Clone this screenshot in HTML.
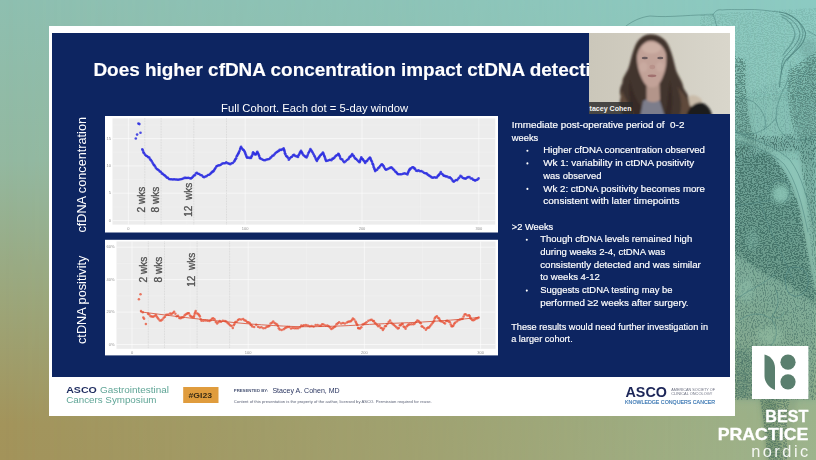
<!DOCTYPE html>
<html lang="en">
<head>
<meta charset="utf-8">
<title>Does higher cfDNA concentration impact ctDNA detection?</title>
<style>
  html, body { margin:0; padding:0; }
  body { width:816px; height:460px; overflow:hidden; position:relative; background:#95b09a;
         font-family:"Liberation Sans", sans-serif; }
  .bg, .bg2 { position:absolute; left:0; top:0; width:816px; height:460px; }
  .bg  { background:linear-gradient(to bottom, #8ebfb0 0%, #93b8a0 35%, #9ca67a 65%, #a3945b 92%, #a3935a 100%); }
  .bg2 { background:linear-gradient(to bottom, #8ccac2 0%, #8dc5b9 40%, #93ba9f 72%, #9bb38c 90%, #9db48d 100%);
         -webkit-mask-image:linear-gradient(to right, transparent 0%, rgba(0,0,0,0.43) 50%, #000 100%);
                 mask-image:linear-gradient(to right, transparent 0%, rgba(0,0,0,0.43) 50%, #000 100%); }
  .frame { position:absolute; left:49px; top:26px; width:686px; height:390px; background:#fff; }
  .slide { position:absolute; left:52px; top:33px; width:678px; height:344px; background:#0d2561; overflow:hidden; }
  svg { position:absolute; left:0; top:0; }
  svg text { font-family:"Liberation Sans", sans-serif; }
</style>
</head>
<body>
<div class="bg"></div>
<div class="bg2"></div>

<!-- botanical etching on the right -->
<svg width="816" height="460" viewBox="0 0 816 460">
  <defs>
    <filter id="etch" x="0" y="0" width="100%" height="100%" filterUnits="objectBoundingBox">
      <feTurbulence type="fractalNoise" baseFrequency="0.55 0.9" numOctaves="2" seed="11" result="n"/>
      <feColorMatrix in="n" type="matrix" values="0 0 0 0 0  0 0 0 0 0  0 0 0 0 0  7 0 0 0 -3.1" result="a"/>
      <feComposite in="SourceGraphic" in2="a" operator="in"/>
    </filter>
    <filter id="etch2" x="0" y="0" width="100%" height="100%" filterUnits="objectBoundingBox">
      <feTurbulence type="fractalNoise" baseFrequency="0.9 0.5" numOctaves="2" seed="4" result="n"/>
      <feColorMatrix in="n" type="matrix" values="0 0 0 0 0  0 0 0 0 0  0 0 0 0 0  7 0 0 0 -3.4" result="a"/>
      <feComposite in="SourceGraphic" in2="a" operator="in"/>
    </filter>
    <filter id="bl" x="-20%" y="-20%" width="140%" height="140%"><feGaussianBlur stdDeviation="2.5"/></filter>
  </defs>
  <!-- soft tonal masses -->
  <g filter="url(#bl)" fill="#4f7f74">
    <path d="M735 160 L766 152 C780 160,792 180,800 210 C806 240,810 266,816 290 L816 304 L790 286 L770 276 L735 254 Z" fill-opacity="0.55"/>
    <path d="M798 140 L816 136 L816 286 C810 250,806 200,798 140 Z" fill-opacity="0.35"/>
    <path d="M735 254 L816 302 L816 400 L735 400 Z" fill-opacity="0.26"/>
    <path d="M735 100 L816 90 L816 160 L735 160 Z" fill-opacity="0.08"/>
    <path d="M735 60 L745 62 C744 90,748 120,756 146 L735 158 Z" fill-opacity="0.25"/>
    <path d="M790 72 L816 56 L816 140 L800 140 C792 124,788 100,790 72 Z" fill-opacity="0.22"/>
    <path d="M748 134 C764 140,780 140,792 134 L800 150 L766 152 L735 160 L735 152 Z" fill-opacity="0.3"/>
    <path d="M796 40 C806 60,812 90,816 120 L816 40 Z" fill-opacity="0.2"/>
    <path d="M735 350 L752 350 L752 398 L735 398 Z" fill-opacity="0.2"/>
    <path d="M760 399 L778 399 C776 420,778 440,782 460 L767 460 C766 440,764 420,760 399 Z" fill-opacity="0.42" fill="#4a7358"/>
    <path d="M778 399 L798 399 C792 420,790 440,792 460 L782 460 C778 440,776 420,778 399 Z" fill-opacity="0.15" fill="#4a7358"/>
  </g>
  <!-- stippled / hatched texture -->
  <g fill="#2f5a54">
    <path filter="url(#etch)" d="M735 160 L766 152 C780 160,792 180,800 210 C806 240,810 266,816 290 L816 304 L790 286 L770 276 L735 254 Z" fill-opacity="0.6"/>
    <path filter="url(#etch2)" d="M798 140 L816 136 L816 286 C810 250,806 200,798 140 Z" fill-opacity="0.45"/>
    <path filter="url(#etch2)" d="M735 254 L816 302 L816 400 L735 400 Z" fill-opacity="0.4"/>
    <path filter="url(#etch2)" d="M735 96 L816 70 L816 160 L735 160 Z" fill-opacity="0.16"/>
    <path filter="url(#etch)" d="M735 56 L746 60 C744 90,748 120,756 146 L735 160 Z" fill-opacity="0.42"/>
    <path filter="url(#etch)" d="M788 70 L816 52 L816 140 L798 140 C790 124,786 100,788 70 Z" fill-opacity="0.36"/>
    <path filter="url(#etch2)" d="M748 132 C764 138,780 138,792 132 L800 150 L766 152 L735 160 L735 150 Z" fill-opacity="0.5"/>
    <path filter="url(#etch)" d="M700 14 L816 8 L816 100 L735 100 L735 26 L700 26 Z" fill-opacity="0.13"/>
    <path filter="url(#etch)" d="M735 348 L752 348 L752 398 L735 398 Z" fill-opacity="0.3"/>
    <path filter="url(#etch)" d="M760 399 L790 399 C786 420,786 440,788 460 L767 460 C766 440,764 420,760 399 Z" fill-opacity="0.4"/>
  </g>
  <!-- lighter shapes (bud, stem, leaves) -->
  <g filter="url(#bl)" fill="#8cc5b6">
    <circle cx="781" cy="194" r="9" fill-opacity="0.85"/>
    <path d="M735 140 C752 146,770 150,782 160 C796 176,802 200,808 230 C812 260,814 280,816 300 L816 276 C812 240,808 200,800 176 C790 156,770 146,735 134 Z" fill-opacity="0.7"/>
    <ellipse cx="770" cy="336" rx="13" ry="9" fill-opacity="0.5" fill="#93bfa6"/>
    <ellipse cx="746" cy="290" rx="8" ry="12" fill-opacity="0.45" fill="#90c0ac"/>
    <ellipse cx="752" cy="240" rx="6" ry="10" fill-opacity="0.3"/>
  </g>
  <g fill="none" stroke="#4f8580" stroke-width="0.7" stroke-opacity="0.8" stroke-linecap="round">
    <path d="M626 26 C634 20,642 17,650 16 C670 18,695 14,713 15 C715 11,718 9,722 10 C730 9,740 10,746 9.5 C758 9,768 11,779.5 12"/>
    <path d="M779.5 12 C790 13,802 22,805.5 32.5 C806 44,794 52,786 60 C782 66,780 76,779.5 87" stroke-width="1.1"/>
    <path d="M781 14.5 C790 17,798 24,800 33 C800 43,790 50,784 58 C781 63,781 70,782 74" stroke-width="0.9"/>
    <path d="M782 17 C789 20,794 26,795 34 C795 42,788 48,783 55" stroke-width="1.2" stroke-opacity="0.6"/>
    <path d="M786 13.5 C796 17,803 25,803 34 C802 44,792 52,787 61" stroke-width="0.8"/>
    <path d="M807.5 30.5 C810 32,813 34,816 35.5"/>
    <path d="M790 62 C792 70,792 80,788 90 M796 66 C800 76,800 86,796 96" stroke-opacity="0.5"/>
    <path d="M713 15 C716 20,716 26,718 30"/>
    <path d="M735 96 C742 100,750 98,756 104 C764 112,768 122,764 130"/>
    <path d="M789 78 C782 92,776 104,776 118 C777 130,784 138,796 140 C804 141,812 138,816 134"/>
    <path d="M776 118 C770 126,762 132,752 134 C744 135,738 133,735 130"/>
    <path d="M816 60 C808 66,802 74,800 84"/>
    <path d="M735 140 C752 146,772 152,784 164 C796 180,802 204,808 232"/>
    <path d="M735 132 C754 140,776 146,790 160 C802 176,808 200,814 226"/>
    <path d="M768 190 C770 182,778 178,786 182 C792 188,790 198,784 202"/>
    <path d="M758 196 C764 214,772 236,780 250 C784 260,788 268,792 278"/>
    <path d="M735 206 C748 204,760 202,772 200"/>
    <path d="M735 300 C748 290,764 284,776 274"/>
    <path d="M790 268 C800 264,810 272,808 284 C806 296,794 300,788 292 C784 284,784 274,790 268" stroke-width="0.9"/>
    <path d="M740 320 C750 312,764 312,772 320 C780 330,776 344,766 350"/>
    <path d="M776 290 C780 300,778 310,772 316 C776 320,782 318,784 312"/>
  </g>
</svg>

<div class="frame"></div>
<div class="slide"></div>

<!-- slide contents -->
<svg width="816" height="460" viewBox="0 0 816 460">
  <defs>
    <clipPath id="slideclip"><rect x="52" y="33" width="678" height="344"/></clipPath>
    <clipPath id="camclip"><rect x="589" y="33" width="141" height="81"/></clipPath>
    <linearGradient id="wall" x1="0" x2="1" y1="0" y2="0">
      <stop offset="0" stop-color="#cbc7ba"/><stop offset="0.45" stop-color="#d1cdc1"/><stop offset="0.8" stop-color="#d6d3c8"/><stop offset="1" stop-color="#d9d6cb"/>
    </linearGradient>
    <filter id="soft" x="-10%" y="-10%" width="120%" height="120%"><feGaussianBlur stdDeviation="1.1"/></filter>
    <filter id="soft2" x="-10%" y="-10%" width="120%" height="120%"><feGaussianBlur stdDeviation="0.45"/></filter>
    <filter id="soft3" x="0" y="0" width="816" height="460" filterUnits="userSpaceOnUse"><feGaussianBlur stdDeviation="0.32"/></filter>
  </defs>

  <g filter="url(#soft3)">
  <!-- title -->
  <text x="93.4" y="76.2" font-size="17.6" font-weight="bold" fill="#fff" stroke="#fff" stroke-width="0.15" textLength="532.1" lengthAdjust="spacingAndGlyphs" clip-path="url(#slideclip)">Does higher cfDNA concentration impact ctDNA detection?</text>
  <text x="221.1" y="112.2" font-size="10.6" fill="#fff" textLength="187" lengthAdjust="spacingAndGlyphs">Full Cohort. Each dot = 5-day window</text>

  <!-- y axis titles -->
  <text transform="translate(86.3,232.6) rotate(-90)" font-size="12.9" fill="#fff" textLength="115.6" lengthAdjust="spacingAndGlyphs">cfDNA concentration</text>
  <text transform="translate(86.3,344) rotate(-90)" font-size="12.9" fill="#fff" textLength="88.4" lengthAdjust="spacingAndGlyphs">ctDNA positivity</text>

  </g>
  <g filter="url(#soft2)">
  <rect x="105" y="116" width="393" height="116.5" fill="#fff"/><rect x="112.5" y="118.4" width="382.8" height="106.2" fill="#ececec"/><line x1="186.8" y1="118" x2="186.8" y2="224.5" stroke="#f5f5f5" stroke-width="0.5" stroke-opacity="0.8"/><line x1="303.6" y1="118" x2="303.6" y2="224.5" stroke="#f5f5f5" stroke-width="0.5" stroke-opacity="0.8"/><line x1="420.4" y1="118" x2="420.4" y2="224.5" stroke="#f5f5f5" stroke-width="0.5" stroke-opacity="0.8"/><line x1="113" y1="206.9" x2="495.5" y2="206.9" stroke="#f5f5f5" stroke-width="0.5" stroke-opacity="0.8"/><line x1="113" y1="179.6" x2="495.5" y2="179.6" stroke="#f5f5f5" stroke-width="0.5" stroke-opacity="0.8"/><line x1="113" y1="152.2" x2="495.5" y2="152.2" stroke="#f5f5f5" stroke-width="0.5" stroke-opacity="0.8"/><line x1="113" y1="124.9" x2="495.5" y2="124.9" stroke="#f5f5f5" stroke-width="0.5" stroke-opacity="0.8"/><line x1="128.4" y1="118" x2="128.4" y2="224.5" stroke="#fff" stroke-width="0.8" stroke-opacity="0.7"/><line x1="245.2" y1="118" x2="245.2" y2="224.5" stroke="#fff" stroke-width="0.8" stroke-opacity="0.7"/><line x1="362.0" y1="118" x2="362.0" y2="224.5" stroke="#fff" stroke-width="0.8" stroke-opacity="0.7"/><line x1="478.8" y1="118" x2="478.8" y2="224.5" stroke="#fff" stroke-width="0.8" stroke-opacity="0.7"/><line x1="113" y1="220.6" x2="495.5" y2="220.6" stroke="#fff" stroke-width="0.8" stroke-opacity="0.7"/><line x1="113" y1="193.2" x2="495.5" y2="193.2" stroke="#fff" stroke-width="0.8" stroke-opacity="0.7"/><line x1="113" y1="165.9" x2="495.5" y2="165.9" stroke="#fff" stroke-width="0.8" stroke-opacity="0.7"/><line x1="113" y1="138.6" x2="495.5" y2="138.6" stroke="#fff" stroke-width="0.8" stroke-opacity="0.7"/><line x1="144.8" y1="118" x2="144.8" y2="224.5" stroke="#c4c4c4" stroke-width="0.5" stroke-dasharray="0.8 0.8"/><line x1="161.1" y1="118" x2="161.1" y2="224.5" stroke="#c4c4c4" stroke-width="0.5" stroke-dasharray="0.8 0.8"/><line x1="193.8" y1="118" x2="193.8" y2="224.5" stroke="#c4c4c4" stroke-width="0.5" stroke-dasharray="0.8 0.8"/><line x1="226.5" y1="118" x2="226.5" y2="224.5" stroke="#c4c4c4" stroke-width="0.5" stroke-dasharray="0.8 0.8"/><text x="111" y="221.8" font-size="4" fill="#909090" text-anchor="end">0</text><text x="111" y="194.4" font-size="4" fill="#909090" text-anchor="end">5</text><text x="111" y="167.1" font-size="4" fill="#909090" text-anchor="end">10</text><text x="111" y="139.8" font-size="4" fill="#909090" text-anchor="end">15</text><text x="128.4" y="230.3" font-size="4" fill="#909090" text-anchor="middle">0</text><text x="245.2" y="230.3" font-size="4" fill="#909090" text-anchor="middle">100</text><text x="362.0" y="230.3" font-size="4" fill="#909090" text-anchor="middle">200</text><text x="478.8" y="230.3" font-size="4" fill="#909090" text-anchor="middle">300</text><g fill="#2b2de0" fill-opacity="0.85"><circle cx="135.8" cy="138.5" r="1.3"/><circle cx="137.1" cy="134.6" r="1.3"/><circle cx="138.4" cy="123.6" r="1.3"/><circle cx="139.4" cy="124.1" r="1.3"/><circle cx="140.5" cy="132.7" r="1.3"/><circle cx="142.3" cy="149.2" r="1.3"/><circle cx="142.9" cy="150.5" r="1.3"/><circle cx="143.5" cy="152.3" r="1.3"/><circle cx="144.1" cy="153.2" r="1.3"/><circle cx="145.1" cy="154.8" r="1.3"/><circle cx="146.2" cy="155.8" r="1.3"/><circle cx="147.2" cy="156.2" r="1.3"/><circle cx="148.3" cy="157.3" r="1.3"/><circle cx="149.3" cy="157.6" r="1.3"/><circle cx="150.2" cy="159.2" r="1.3"/><circle cx="151.0" cy="160.2" r="1.3"/><circle cx="151.9" cy="161.5" r="1.3"/><circle cx="152.7" cy="163.0" r="1.3"/><circle cx="153.5" cy="164.5" r="1.3"/><circle cx="154.2" cy="165.0" r="1.3"/><circle cx="155.0" cy="166.3" r="1.3"/><circle cx="155.8" cy="167.8" r="1.3"/><circle cx="156.8" cy="169.0" r="1.3"/><circle cx="157.8" cy="169.5" r="1.3"/><circle cx="158.8" cy="170.2" r="1.3"/><circle cx="159.8" cy="171.5" r="1.3"/><circle cx="160.8" cy="171.7" r="1.3"/><circle cx="161.8" cy="173.4" r="1.3"/><circle cx="162.7" cy="173.8" r="1.3"/><circle cx="163.7" cy="174.7" r="1.3"/><circle cx="164.7" cy="175.4" r="1.3"/><circle cx="165.8" cy="176.4" r="1.3"/><circle cx="166.8" cy="177.6" r="1.3"/><circle cx="167.9" cy="177.8" r="1.3"/><circle cx="168.9" cy="179.0" r="1.3"/><circle cx="170.2" cy="179.2" r="1.3"/><circle cx="171.5" cy="179.2" r="1.3"/><circle cx="172.8" cy="179.5" r="1.3"/><circle cx="174.1" cy="179.3" r="1.3"/><circle cx="175.4" cy="179.5" r="1.3"/><circle cx="176.7" cy="179.5" r="1.3"/><circle cx="178.0" cy="179.8" r="1.3"/><circle cx="179.3" cy="179.5" r="1.3"/><circle cx="180.6" cy="179.2" r="1.3"/><circle cx="181.9" cy="179.0" r="1.3"/><circle cx="183.2" cy="178.5" r="1.3"/><circle cx="184.5" cy="177.9" r="1.3"/><circle cx="185.8" cy="177.9" r="1.3"/><circle cx="187.1" cy="178.0" r="1.3"/><circle cx="188.4" cy="177.8" r="1.3"/><circle cx="189.7" cy="178.3" r="1.3"/><circle cx="191.0" cy="178.4" r="1.3"/><circle cx="192.0" cy="177.8" r="1.3"/><circle cx="192.9" cy="176.8" r="1.3"/><circle cx="193.9" cy="175.5" r="1.3"/><circle cx="194.9" cy="175.2" r="1.3"/><circle cx="195.8" cy="173.5" r="1.3"/><circle cx="196.8" cy="172.8" r="1.3"/><circle cx="198.0" cy="173.8" r="1.3"/><circle cx="199.2" cy="174.0" r="1.3"/><circle cx="200.4" cy="175.0" r="1.3"/><circle cx="201.7" cy="175.3" r="1.3"/><circle cx="202.9" cy="176.6" r="1.3"/><circle cx="204.1" cy="177.3" r="1.3"/><circle cx="205.4" cy="176.5" r="1.3"/><circle cx="206.7" cy="176.1" r="1.3"/><circle cx="208.0" cy="175.0" r="1.3"/><circle cx="209.3" cy="174.7" r="1.3"/><circle cx="210.3" cy="173.7" r="1.3"/><circle cx="211.2" cy="172.9" r="1.3"/><circle cx="212.2" cy="171.9" r="1.3"/><circle cx="213.2" cy="171.4" r="1.3"/><circle cx="214.0" cy="170.4" r="1.3"/><circle cx="214.8" cy="169.0" r="1.3"/><circle cx="215.5" cy="168.1" r="1.3"/><circle cx="216.3" cy="166.5" r="1.3"/><circle cx="217.1" cy="166.0" r="1.3"/><circle cx="218.4" cy="165.4" r="1.3"/><circle cx="219.7" cy="165.2" r="1.3"/><circle cx="221.0" cy="164.6" r="1.3"/><circle cx="222.3" cy="163.6" r="1.3"/><circle cx="223.6" cy="163.3" r="1.3"/><circle cx="225.0" cy="163.2" r="1.3"/><circle cx="226.3" cy="162.3" r="1.3"/><circle cx="227.6" cy="163.3" r="1.3"/><circle cx="228.9" cy="163.6" r="1.3"/><circle cx="230.2" cy="164.2" r="1.3"/><circle cx="231.5" cy="163.2" r="1.3"/><circle cx="232.8" cy="163.0" r="1.3"/><circle cx="234.1" cy="161.6" r="1.3"/><circle cx="234.8" cy="160.4" r="1.3"/><circle cx="235.4" cy="159.2" r="1.3"/><circle cx="236.1" cy="158.3" r="1.3"/><circle cx="236.7" cy="156.3" r="1.3"/><circle cx="237.3" cy="155.4" r="1.3"/><circle cx="238.0" cy="154.1" r="1.3"/><circle cx="238.5" cy="153.2" r="1.3"/><circle cx="239.0" cy="152.0" r="1.3"/><circle cx="239.6" cy="150.8" r="1.3"/><circle cx="240.1" cy="149.0" r="1.3"/><circle cx="240.6" cy="147.9" r="1.3"/><circle cx="241.1" cy="146.7" r="1.3"/><circle cx="241.9" cy="148.3" r="1.3"/><circle cx="242.8" cy="149.6" r="1.3"/><circle cx="243.7" cy="150.0" r="1.3"/><circle cx="244.5" cy="151.2" r="1.3"/><circle cx="245.0" cy="152.6" r="1.3"/><circle cx="245.5" cy="153.9" r="1.3"/><circle cx="246.1" cy="155.4" r="1.3"/><circle cx="246.6" cy="156.8" r="1.3"/><circle cx="247.1" cy="157.8" r="1.3"/><circle cx="248.4" cy="157.6" r="1.3"/><circle cx="249.7" cy="157.9" r="1.3"/><circle cx="251.0" cy="157.9" r="1.3"/><circle cx="251.5" cy="156.6" r="1.3"/><circle cx="252.1" cy="155.6" r="1.3"/><circle cx="252.6" cy="153.9" r="1.3"/><circle cx="253.1" cy="152.3" r="1.3"/><circle cx="253.9" cy="153.3" r="1.3"/><circle cx="254.7" cy="154.2" r="1.3"/><circle cx="255.5" cy="154.5" r="1.3"/><circle cx="256.1" cy="154.1" r="1.3"/><circle cx="256.7" cy="152.9" r="1.3"/><circle cx="257.3" cy="151.8" r="1.3"/><circle cx="257.8" cy="153.0" r="1.3"/><circle cx="258.3" cy="153.8" r="1.3"/><circle cx="258.8" cy="155.1" r="1.3"/><circle cx="259.2" cy="156.0" r="1.3"/><circle cx="259.7" cy="157.7" r="1.3"/><circle cx="260.2" cy="158.4" r="1.3"/><circle cx="261.5" cy="159.0" r="1.3"/><circle cx="262.8" cy="159.7" r="1.3"/><circle cx="264.1" cy="160.3" r="1.3"/><circle cx="265.4" cy="160.1" r="1.3"/><circle cx="266.7" cy="159.5" r="1.3"/><circle cx="268.0" cy="159.2" r="1.3"/><circle cx="269.3" cy="159.0" r="1.3"/><circle cx="270.3" cy="157.9" r="1.3"/><circle cx="271.4" cy="157.1" r="1.3"/><circle cx="272.4" cy="155.8" r="1.3"/><circle cx="273.5" cy="155.5" r="1.3"/><circle cx="274.5" cy="154.2" r="1.3"/><circle cx="275.5" cy="153.0" r="1.3"/><circle cx="276.6" cy="152.3" r="1.3"/><circle cx="277.6" cy="151.6" r="1.3"/><circle cx="278.7" cy="150.9" r="1.3"/><circle cx="279.7" cy="149.9" r="1.3"/><circle cx="281.0" cy="149.9" r="1.3"/><circle cx="282.3" cy="149.4" r="1.3"/><circle cx="283.6" cy="148.4" r="1.3"/><circle cx="284.0" cy="149.6" r="1.3"/><circle cx="284.3" cy="150.5" r="1.3"/><circle cx="284.7" cy="151.8" r="1.3"/><circle cx="285.0" cy="153.2" r="1.3"/><circle cx="285.4" cy="154.4" r="1.3"/><circle cx="286.2" cy="156.1" r="1.3"/><circle cx="287.1" cy="156.6" r="1.3"/><circle cx="287.9" cy="157.7" r="1.3"/><circle cx="288.8" cy="159.7" r="1.3"/><circle cx="289.8" cy="158.4" r="1.3"/><circle cx="290.9" cy="157.2" r="1.3"/><circle cx="291.9" cy="156.7" r="1.3"/><circle cx="293.0" cy="155.4" r="1.3"/><circle cx="294.0" cy="154.9" r="1.3"/><circle cx="295.3" cy="155.9" r="1.3"/><circle cx="296.7" cy="156.4" r="1.3"/><circle cx="298.0" cy="156.9" r="1.3"/><circle cx="298.6" cy="155.3" r="1.3"/><circle cx="299.2" cy="154.2" r="1.3"/><circle cx="299.8" cy="152.8" r="1.3"/><circle cx="300.4" cy="152.1" r="1.3"/><circle cx="301.0" cy="150.7" r="1.3"/><circle cx="301.5" cy="152.1" r="1.3"/><circle cx="302.1" cy="152.8" r="1.3"/><circle cx="302.6" cy="153.9" r="1.3"/><circle cx="303.6" cy="155.2" r="1.3"/><circle cx="304.6" cy="156.1" r="1.3"/><circle cx="305.5" cy="156.7" r="1.3"/><circle cx="306.5" cy="157.5" r="1.3"/><circle cx="307.1" cy="156.2" r="1.3"/><circle cx="307.8" cy="154.8" r="1.3"/><circle cx="308.4" cy="153.1" r="1.3"/><circle cx="309.1" cy="152.0" r="1.3"/><circle cx="309.8" cy="150.6" r="1.3"/><circle cx="310.4" cy="149.0" r="1.3"/><circle cx="311.2" cy="150.2" r="1.3"/><circle cx="312.0" cy="151.6" r="1.3"/><circle cx="312.8" cy="152.7" r="1.3"/><circle cx="313.6" cy="154.3" r="1.3"/><circle cx="314.3" cy="155.8" r="1.3"/><circle cx="314.9" cy="156.7" r="1.3"/><circle cx="315.6" cy="158.4" r="1.3"/><circle cx="316.2" cy="159.7" r="1.3"/><circle cx="316.9" cy="161.0" r="1.3"/><circle cx="317.6" cy="159.5" r="1.3"/><circle cx="318.2" cy="158.4" r="1.3"/><circle cx="318.9" cy="157.4" r="1.3"/><circle cx="319.6" cy="156.4" r="1.3"/><circle cx="320.4" cy="155.3" r="1.3"/><circle cx="321.2" cy="154.6" r="1.3"/><circle cx="322.1" cy="153.8" r="1.3"/><circle cx="322.9" cy="152.6" r="1.3"/><circle cx="323.4" cy="153.5" r="1.3"/><circle cx="323.8" cy="154.8" r="1.3"/><circle cx="324.3" cy="156.1" r="1.3"/><circle cx="324.7" cy="156.7" r="1.3"/><circle cx="325.2" cy="158.4" r="1.3"/><circle cx="325.6" cy="159.8" r="1.3"/><circle cx="326.1" cy="160.9" r="1.3"/><circle cx="327.4" cy="160.7" r="1.3"/><circle cx="328.7" cy="160.2" r="1.3"/><circle cx="330.0" cy="159.8" r="1.3"/><circle cx="331.3" cy="160.2" r="1.3"/><circle cx="332.3" cy="158.9" r="1.3"/><circle cx="333.2" cy="158.6" r="1.3"/><circle cx="334.2" cy="157.9" r="1.3"/><circle cx="335.2" cy="156.6" r="1.3"/><circle cx="336.2" cy="155.6" r="1.3"/><circle cx="337.3" cy="155.0" r="1.3"/><circle cx="338.3" cy="153.8" r="1.3"/><circle cx="338.8" cy="154.4" r="1.3"/><circle cx="339.4" cy="155.5" r="1.3"/><circle cx="339.9" cy="156.6" r="1.3"/><circle cx="340.4" cy="158.4" r="1.3"/><circle cx="341.4" cy="159.3" r="1.3"/><circle cx="342.4" cy="159.6" r="1.3"/><circle cx="343.3" cy="161.2" r="1.3"/><circle cx="344.3" cy="162.3" r="1.3"/><circle cx="345.6" cy="161.2" r="1.3"/><circle cx="346.9" cy="160.0" r="1.3"/><circle cx="348.2" cy="159.3" r="1.3"/><circle cx="349.0" cy="157.9" r="1.3"/><circle cx="349.8" cy="156.8" r="1.3"/><circle cx="350.6" cy="156.6" r="1.3"/><circle cx="351.4" cy="155.3" r="1.3"/><circle cx="352.2" cy="154.1" r="1.3"/><circle cx="353.0" cy="155.5" r="1.3"/><circle cx="353.8" cy="156.1" r="1.3"/><circle cx="354.5" cy="157.6" r="1.3"/><circle cx="355.3" cy="158.6" r="1.3"/><circle cx="356.1" cy="159.0" r="1.3"/><circle cx="357.2" cy="160.1" r="1.3"/><circle cx="358.4" cy="161.2" r="1.3"/><circle cx="359.5" cy="162.3" r="1.3"/><circle cx="359.9" cy="161.3" r="1.3"/><circle cx="360.4" cy="159.8" r="1.3"/><circle cx="360.9" cy="158.7" r="1.3"/><circle cx="361.3" cy="157.2" r="1.3"/><circle cx="362.1" cy="158.9" r="1.3"/><circle cx="362.9" cy="159.4" r="1.3"/><circle cx="363.6" cy="160.5" r="1.3"/><circle cx="364.4" cy="161.6" r="1.3"/><circle cx="365.2" cy="162.9" r="1.3"/><circle cx="366.1" cy="161.4" r="1.3"/><circle cx="367.1" cy="160.9" r="1.3"/><circle cx="368.0" cy="159.5" r="1.3"/><circle cx="369.0" cy="158.5" r="1.3"/><circle cx="369.9" cy="157.5" r="1.3"/><circle cx="370.4" cy="158.2" r="1.3"/><circle cx="370.9" cy="159.8" r="1.3"/><circle cx="371.4" cy="160.7" r="1.3"/><circle cx="372.0" cy="161.7" r="1.3"/><circle cx="372.5" cy="163.6" r="1.3"/><circle cx="373.0" cy="164.2" r="1.3"/><circle cx="373.4" cy="165.8" r="1.3"/><circle cx="373.8" cy="167.3" r="1.3"/><circle cx="374.3" cy="168.5" r="1.3"/><circle cx="374.7" cy="169.6" r="1.3"/><circle cx="375.1" cy="171.1" r="1.3"/><circle cx="376.1" cy="170.3" r="1.3"/><circle cx="377.2" cy="169.6" r="1.3"/><circle cx="378.2" cy="168.1" r="1.3"/><circle cx="379.2" cy="167.4" r="1.3"/><circle cx="380.1" cy="166.0" r="1.3"/><circle cx="381.1" cy="164.9" r="1.3"/><circle cx="382.1" cy="164.2" r="1.3"/><circle cx="382.9" cy="165.2" r="1.3"/><circle cx="383.7" cy="166.4" r="1.3"/><circle cx="384.4" cy="167.7" r="1.3"/><circle cx="385.2" cy="169.0" r="1.3"/><circle cx="386.0" cy="169.7" r="1.3"/><circle cx="387.3" cy="169.3" r="1.3"/><circle cx="388.6" cy="168.5" r="1.3"/><circle cx="390.0" cy="167.9" r="1.3"/><circle cx="391.3" cy="167.4" r="1.3"/><circle cx="392.3" cy="168.1" r="1.3"/><circle cx="393.2" cy="169.2" r="1.3"/><circle cx="394.2" cy="170.1" r="1.3"/><circle cx="395.2" cy="171.5" r="1.3"/><circle cx="396.1" cy="172.1" r="1.3"/><circle cx="396.9" cy="173.1" r="1.3"/><circle cx="397.8" cy="174.0" r="1.3"/><circle cx="398.6" cy="174.3" r="1.3"/><circle cx="400.1" cy="174.2" r="1.3"/><circle cx="401.5" cy="174.2" r="1.3"/><circle cx="403.0" cy="173.7" r="1.3"/><circle cx="404.5" cy="173.4" r="1.3"/><circle cx="405.9" cy="173.8" r="1.3"/><circle cx="407.4" cy="174.4" r="1.3"/><circle cx="407.9" cy="172.9" r="1.3"/><circle cx="408.4" cy="171.9" r="1.3"/><circle cx="409.0" cy="170.5" r="1.3"/><circle cx="409.5" cy="169.9" r="1.3"/><circle cx="410.0" cy="168.8" r="1.3"/><circle cx="411.1" cy="168.4" r="1.3"/><circle cx="412.3" cy="167.3" r="1.3"/><circle cx="413.4" cy="167.4" r="1.3"/><circle cx="414.3" cy="168.4" r="1.3"/><circle cx="415.1" cy="168.9" r="1.3"/><circle cx="416.0" cy="170.6" r="1.3"/><circle cx="417.3" cy="170.9" r="1.3"/><circle cx="418.6" cy="170.4" r="1.3"/><circle cx="420.0" cy="171.3" r="1.3"/><circle cx="421.3" cy="171.0" r="1.3"/><circle cx="422.6" cy="171.7" r="1.3"/><circle cx="423.9" cy="172.8" r="1.3"/><circle cx="425.2" cy="173.3" r="1.3"/><circle cx="426.5" cy="173.4" r="1.3"/><circle cx="427.5" cy="174.4" r="1.3"/><circle cx="428.6" cy="175.3" r="1.3"/><circle cx="429.6" cy="175.9" r="1.3"/><circle cx="430.7" cy="176.5" r="1.3"/><circle cx="431.7" cy="177.4" r="1.3"/><circle cx="433.0" cy="177.8" r="1.3"/><circle cx="434.3" cy="177.2" r="1.3"/><circle cx="435.6" cy="177.6" r="1.3"/><circle cx="436.9" cy="177.5" r="1.3"/><circle cx="437.7" cy="176.1" r="1.3"/><circle cx="438.5" cy="175.4" r="1.3"/><circle cx="439.2" cy="174.6" r="1.3"/><circle cx="440.0" cy="173.5" r="1.3"/><circle cx="440.8" cy="172.0" r="1.3"/><circle cx="441.8" cy="173.8" r="1.3"/><circle cx="442.8" cy="174.6" r="1.3"/><circle cx="443.7" cy="175.7" r="1.3"/><circle cx="444.7" cy="175.9" r="1.3"/><circle cx="446.0" cy="176.4" r="1.3"/><circle cx="447.3" cy="176.5" r="1.3"/><circle cx="448.6" cy="177.5" r="1.3"/><circle cx="449.9" cy="177.4" r="1.3"/><circle cx="450.9" cy="178.2" r="1.3"/><circle cx="451.9" cy="179.5" r="1.3"/><circle cx="452.8" cy="180.9" r="1.3"/><circle cx="453.8" cy="181.8" r="1.3"/><circle cx="454.9" cy="180.7" r="1.3"/><circle cx="456.1" cy="180.0" r="1.3"/><circle cx="457.2" cy="180.1" r="1.3"/><circle cx="458.3" cy="178.6" r="1.3"/><circle cx="459.3" cy="177.6" r="1.3"/><circle cx="460.4" cy="175.9" r="1.3"/><circle cx="461.5" cy="176.6" r="1.3"/><circle cx="462.6" cy="177.8" r="1.3"/><circle cx="463.7" cy="178.2" r="1.3"/><circle cx="464.8" cy="178.5" r="1.3"/><circle cx="465.9" cy="178.6" r="1.3"/><circle cx="467.1" cy="177.6" r="1.3"/><circle cx="468.2" cy="177.1" r="1.3"/><circle cx="469.5" cy="177.1" r="1.3"/><circle cx="470.8" cy="178.5" r="1.3"/><circle cx="472.1" cy="178.5" r="1.3"/><circle cx="473.1" cy="179.8" r="1.3"/><circle cx="474.2" cy="180.1" r="1.3"/><circle cx="475.2" cy="180.6" r="1.3"/><circle cx="476.3" cy="180.0" r="1.3"/><circle cx="477.5" cy="179.6" r="1.3"/><circle cx="478.6" cy="178.4" r="1.3"/></g><text transform="translate(144.5,212.5) rotate(-90)" font-size="10.4" fill="#505050" stroke="#505050" stroke-width="0.3" xml:space="preserve" textLength="25.8" lengthAdjust="spacingAndGlyphs">2 wks</text><text transform="translate(159.3,212.5) rotate(-90)" font-size="10.4" fill="#505050" stroke="#505050" stroke-width="0.3" xml:space="preserve" textLength="25.8" lengthAdjust="spacingAndGlyphs">8 wks</text><text transform="translate(192.0,216.8) rotate(-90)" font-size="10.4" fill="#505050" stroke="#505050" stroke-width="0.3" xml:space="preserve" textLength="34" lengthAdjust="spacingAndGlyphs">12  wks</text>
  <rect x="105" y="239.8" width="393" height="115.6" fill="#fff"/><rect x="116.5" y="241.5" width="379" height="107.3" fill="#ececec"/><line x1="190.1" y1="241.5" x2="190.1" y2="348.8" stroke="#f5f5f5" stroke-width="0.5" stroke-opacity="0.8"/><line x1="306.3" y1="241.5" x2="306.3" y2="348.8" stroke="#f5f5f5" stroke-width="0.5" stroke-opacity="0.8"/><line x1="422.5" y1="241.5" x2="422.5" y2="348.8" stroke="#f5f5f5" stroke-width="0.5" stroke-opacity="0.8"/><line x1="116.5" y1="328.3" x2="495.5" y2="328.3" stroke="#f5f5f5" stroke-width="0.5" stroke-opacity="0.8"/><line x1="116.5" y1="295.8" x2="495.5" y2="295.8" stroke="#f5f5f5" stroke-width="0.5" stroke-opacity="0.8"/><line x1="116.5" y1="263.4" x2="495.5" y2="263.4" stroke="#f5f5f5" stroke-width="0.5" stroke-opacity="0.8"/><line x1="132.0" y1="241.5" x2="132.0" y2="348.8" stroke="#fff" stroke-width="0.8" stroke-opacity="0.7"/><line x1="248.2" y1="241.5" x2="248.2" y2="348.8" stroke="#fff" stroke-width="0.8" stroke-opacity="0.7"/><line x1="364.4" y1="241.5" x2="364.4" y2="348.8" stroke="#fff" stroke-width="0.8" stroke-opacity="0.7"/><line x1="480.6" y1="241.5" x2="480.6" y2="348.8" stroke="#fff" stroke-width="0.8" stroke-opacity="0.7"/><line x1="116.5" y1="344.5" x2="495.5" y2="344.5" stroke="#fff" stroke-width="0.8" stroke-opacity="0.7"/><line x1="116.5" y1="312.1" x2="495.5" y2="312.1" stroke="#fff" stroke-width="0.8" stroke-opacity="0.7"/><line x1="116.5" y1="279.6" x2="495.5" y2="279.6" stroke="#fff" stroke-width="0.8" stroke-opacity="0.7"/><line x1="116.5" y1="247.2" x2="495.5" y2="247.2" stroke="#fff" stroke-width="0.8" stroke-opacity="0.7"/><line x1="148.3" y1="241.5" x2="148.3" y2="348.8" stroke="#c4c4c4" stroke-width="0.5" stroke-dasharray="0.8 0.8"/><line x1="164.5" y1="241.5" x2="164.5" y2="348.8" stroke="#c4c4c4" stroke-width="0.5" stroke-dasharray="0.8 0.8"/><line x1="197.1" y1="241.5" x2="197.1" y2="348.8" stroke="#c4c4c4" stroke-width="0.5" stroke-dasharray="0.8 0.8"/><line x1="229.6" y1="241.5" x2="229.6" y2="348.8" stroke="#c4c4c4" stroke-width="0.5" stroke-dasharray="0.8 0.8"/><text x="114.5" y="345.7" font-size="4" fill="#909090" text-anchor="end">0%</text><text x="114.5" y="313.3" font-size="4" fill="#909090" text-anchor="end">20%</text><text x="114.5" y="280.8" font-size="4" fill="#909090" text-anchor="end">40%</text><text x="114.5" y="248.4" font-size="4" fill="#909090" text-anchor="end">60%</text><text x="132.0" y="353.6" font-size="4" fill="#909090" text-anchor="middle">0</text><text x="248.2" y="353.6" font-size="4" fill="#909090" text-anchor="middle">100</text><text x="364.4" y="353.6" font-size="4" fill="#909090" text-anchor="middle">200</text><text x="480.6" y="353.6" font-size="4" fill="#909090" text-anchor="middle">300</text><g fill="#e8563c" fill-opacity="0.8"><circle cx="138.9" cy="299.3" r="1.25"/><circle cx="140.5" cy="294.3" r="1.25"/><circle cx="141.0" cy="311.0" r="1.25"/><circle cx="142.8" cy="312.3" r="1.25"/><circle cx="143.3" cy="317.5" r="1.25"/><circle cx="144.1" cy="318.8" r="1.25"/><circle cx="145.9" cy="324.0" r="1.25"/><circle cx="148.0" cy="313.7" r="1.25"/><circle cx="149.3" cy="314.5" r="1.25"/><circle cx="150.6" cy="316.2" r="1.25"/><circle cx="151.9" cy="316.4" r="1.25"/><circle cx="153.2" cy="316.8" r="1.25"/><circle cx="154.5" cy="316.0" r="1.25"/><circle cx="155.8" cy="314.9" r="1.25"/><circle cx="156.7" cy="316.4" r="1.25"/><circle cx="157.6" cy="317.8" r="1.25"/><circle cx="158.5" cy="319.0" r="1.25"/><circle cx="159.8" cy="320.6" r="1.25"/><circle cx="161.1" cy="320.5" r="1.25"/><circle cx="162.4" cy="319.6" r="1.25"/><circle cx="163.7" cy="317.7" r="1.25"/><circle cx="165.0" cy="316.7" r="1.25"/><circle cx="166.3" cy="314.8" r="1.25"/><circle cx="168.2" cy="314.6" r="1.25"/><circle cx="170.2" cy="313.5" r="1.25"/><circle cx="171.5" cy="314.1" r="1.25"/><circle cx="172.8" cy="313.1" r="1.25"/><circle cx="174.1" cy="311.7" r="1.25"/><circle cx="175.4" cy="313.8" r="1.25"/><circle cx="176.7" cy="316.2" r="1.25"/><circle cx="178.0" cy="315.7" r="1.25"/><circle cx="179.3" cy="317.9" r="1.25"/><circle cx="180.6" cy="318.2" r="1.25"/><circle cx="181.9" cy="317.4" r="1.25"/><circle cx="183.2" cy="317.2" r="1.25"/><circle cx="184.5" cy="315.5" r="1.25"/><circle cx="185.6" cy="314.6" r="1.25"/><circle cx="186.8" cy="313.8" r="1.25"/><circle cx="187.9" cy="313.2" r="1.25"/><circle cx="188.9" cy="313.3" r="1.25"/><circle cx="190.0" cy="315.5" r="1.25"/><circle cx="191.0" cy="316.6" r="1.25"/><circle cx="192.3" cy="317.1" r="1.25"/><circle cx="193.7" cy="317.3" r="1.25"/><circle cx="194.2" cy="315.8" r="1.25"/><circle cx="194.7" cy="313.8" r="1.25"/><circle cx="195.2" cy="312.6" r="1.25"/><circle cx="195.7" cy="311.0" r="1.25"/><circle cx="197.1" cy="313.5" r="1.25"/><circle cx="198.4" cy="314.0" r="1.25"/><circle cx="199.2" cy="315.2" r="1.25"/><circle cx="199.9" cy="316.5" r="1.25"/><circle cx="200.7" cy="319.3" r="1.25"/><circle cx="201.5" cy="320.8" r="1.25"/><circle cx="203.4" cy="320.8" r="1.25"/><circle cx="205.4" cy="320.5" r="1.25"/><circle cx="207.4" cy="320.7" r="1.25"/><circle cx="209.3" cy="321.0" r="1.25"/><circle cx="210.6" cy="320.3" r="1.25"/><circle cx="211.9" cy="318.7" r="1.25"/><circle cx="213.2" cy="318.2" r="1.25"/><circle cx="214.5" cy="319.3" r="1.25"/><circle cx="215.8" cy="322.1" r="1.25"/><circle cx="217.1" cy="323.6" r="1.25"/><circle cx="218.4" cy="322.2" r="1.25"/><circle cx="219.7" cy="321.0" r="1.25"/><circle cx="221.0" cy="321.7" r="1.25"/><circle cx="222.9" cy="320.8" r="1.25"/><circle cx="224.9" cy="321.1" r="1.25"/><circle cx="226.2" cy="321.4" r="1.25"/><circle cx="227.6" cy="322.9" r="1.25"/><circle cx="228.9" cy="324.0" r="1.25"/><circle cx="230.2" cy="325.3" r="1.25"/><circle cx="231.5" cy="326.1" r="1.25"/><circle cx="232.8" cy="328.0" r="1.25"/><circle cx="233.7" cy="325.3" r="1.25"/><circle cx="234.5" cy="324.0" r="1.25"/><circle cx="235.4" cy="322.0" r="1.25"/><circle cx="236.7" cy="321.7" r="1.25"/><circle cx="238.0" cy="320.1" r="1.25"/><circle cx="239.3" cy="319.2" r="1.25"/><circle cx="241.2" cy="319.4" r="1.25"/><circle cx="243.2" cy="318.9" r="1.25"/><circle cx="244.5" cy="320.2" r="1.25"/><circle cx="245.8" cy="320.8" r="1.25"/><circle cx="247.1" cy="321.9" r="1.25"/><circle cx="248.4" cy="322.3" r="1.25"/><circle cx="249.7" cy="323.1" r="1.25"/><circle cx="250.6" cy="324.7" r="1.25"/><circle cx="251.4" cy="325.2" r="1.25"/><circle cx="252.3" cy="326.4" r="1.25"/><circle cx="254.2" cy="326.9" r="1.25"/><circle cx="256.2" cy="324.8" r="1.25"/><circle cx="258.0" cy="326.7" r="1.25"/><circle cx="259.7" cy="327.4" r="1.25"/><circle cx="261.5" cy="327.2" r="1.25"/><circle cx="263.4" cy="328.2" r="1.25"/><circle cx="265.4" cy="327.9" r="1.25"/><circle cx="266.7" cy="326.8" r="1.25"/><circle cx="268.0" cy="326.4" r="1.25"/><circle cx="269.3" cy="326.0" r="1.25"/><circle cx="270.6" cy="323.4" r="1.25"/><circle cx="271.9" cy="322.8" r="1.25"/><circle cx="273.2" cy="321.4" r="1.25"/><circle cx="274.5" cy="322.9" r="1.25"/><circle cx="275.8" cy="323.7" r="1.25"/><circle cx="277.1" cy="324.6" r="1.25"/><circle cx="278.0" cy="325.9" r="1.25"/><circle cx="278.8" cy="328.2" r="1.25"/><circle cx="279.7" cy="329.6" r="1.25"/><circle cx="281.6" cy="329.9" r="1.25"/><circle cx="283.6" cy="329.3" r="1.25"/><circle cx="284.9" cy="328.2" r="1.25"/><circle cx="286.2" cy="327.5" r="1.25"/><circle cx="287.5" cy="327.1" r="1.25"/><circle cx="289.2" cy="326.9" r="1.25"/><circle cx="291.0" cy="328.4" r="1.25"/><circle cx="292.7" cy="328.1" r="1.25"/><circle cx="294.5" cy="328.2" r="1.25"/><circle cx="296.2" cy="328.2" r="1.25"/><circle cx="298.0" cy="328.3" r="1.25"/><circle cx="300.0" cy="327.2" r="1.25"/><circle cx="301.3" cy="325.5" r="1.25"/><circle cx="302.6" cy="326.1" r="1.25"/><circle cx="303.9" cy="325.2" r="1.25"/><circle cx="305.9" cy="325.1" r="1.25"/><circle cx="307.8" cy="325.5" r="1.25"/><circle cx="309.8" cy="326.3" r="1.25"/><circle cx="311.7" cy="325.9" r="1.25"/><circle cx="313.6" cy="326.5" r="1.25"/><circle cx="315.6" cy="325.0" r="1.25"/><circle cx="317.6" cy="325.0" r="1.25"/><circle cx="319.6" cy="325.7" r="1.25"/><circle cx="320.9" cy="325.8" r="1.25"/><circle cx="322.2" cy="324.2" r="1.25"/><circle cx="323.5" cy="324.4" r="1.25"/><circle cx="325.4" cy="325.6" r="1.25"/><circle cx="327.4" cy="325.4" r="1.25"/><circle cx="328.7" cy="326.3" r="1.25"/><circle cx="330.0" cy="327.6" r="1.25"/><circle cx="331.3" cy="329.0" r="1.25"/><circle cx="332.6" cy="328.3" r="1.25"/><circle cx="333.9" cy="327.2" r="1.25"/><circle cx="335.2" cy="326.4" r="1.25"/><circle cx="336.5" cy="324.2" r="1.25"/><circle cx="337.8" cy="323.2" r="1.25"/><circle cx="339.1" cy="322.3" r="1.25"/><circle cx="341.1" cy="323.4" r="1.25"/><circle cx="343.0" cy="322.9" r="1.25"/><circle cx="344.9" cy="323.5" r="1.25"/><circle cx="346.9" cy="322.6" r="1.25"/><circle cx="348.2" cy="321.8" r="1.25"/><circle cx="349.5" cy="321.4" r="1.25"/><circle cx="350.8" cy="321.2" r="1.25"/><circle cx="351.9" cy="319.9" r="1.25"/><circle cx="352.9" cy="318.6" r="1.25"/><circle cx="354.2" cy="319.5" r="1.25"/><circle cx="355.5" cy="321.4" r="1.25"/><circle cx="356.1" cy="322.8" r="1.25"/><circle cx="356.8" cy="324.3" r="1.25"/><circle cx="357.4" cy="325.1" r="1.25"/><circle cx="358.1" cy="327.9" r="1.25"/><circle cx="358.7" cy="328.2" r="1.25"/><circle cx="360.0" cy="328.5" r="1.25"/><circle cx="361.3" cy="327.3" r="1.25"/><circle cx="362.6" cy="324.5" r="1.25"/><circle cx="363.9" cy="324.0" r="1.25"/><circle cx="365.2" cy="323.3" r="1.25"/><circle cx="366.5" cy="322.2" r="1.25"/><circle cx="368.4" cy="320.8" r="1.25"/><circle cx="370.4" cy="320.0" r="1.25"/><circle cx="371.7" cy="319.7" r="1.25"/><circle cx="373.0" cy="320.9" r="1.25"/><circle cx="373.9" cy="320.9" r="1.25"/><circle cx="374.7" cy="322.8" r="1.25"/><circle cx="375.6" cy="323.4" r="1.25"/><circle cx="376.9" cy="324.7" r="1.25"/><circle cx="378.2" cy="326.2" r="1.25"/><circle cx="379.5" cy="325.4" r="1.25"/><circle cx="380.6" cy="327.7" r="1.25"/><circle cx="381.8" cy="328.2" r="1.25"/><circle cx="382.9" cy="330.0" r="1.25"/><circle cx="383.9" cy="328.4" r="1.25"/><circle cx="385.0" cy="326.2" r="1.25"/><circle cx="386.0" cy="326.1" r="1.25"/><circle cx="387.3" cy="324.0" r="1.25"/><circle cx="388.7" cy="321.9" r="1.25"/><circle cx="390.0" cy="320.5" r="1.25"/><circle cx="391.3" cy="322.7" r="1.25"/><circle cx="392.6" cy="324.0" r="1.25"/><circle cx="393.9" cy="325.0" r="1.25"/><circle cx="395.2" cy="325.9" r="1.25"/><circle cx="396.5" cy="327.3" r="1.25"/><circle cx="397.8" cy="328.4" r="1.25"/><circle cx="398.8" cy="328.0" r="1.25"/><circle cx="399.8" cy="325.2" r="1.25"/><circle cx="400.7" cy="325.3" r="1.25"/><circle cx="401.7" cy="324.1" r="1.25"/><circle cx="402.7" cy="323.9" r="1.25"/><circle cx="403.6" cy="326.5" r="1.25"/><circle cx="404.6" cy="327.3" r="1.25"/><circle cx="405.6" cy="328.7" r="1.25"/><circle cx="406.6" cy="326.5" r="1.25"/><circle cx="407.6" cy="325.5" r="1.25"/><circle cx="408.5" cy="324.4" r="1.25"/><circle cx="409.5" cy="324.4" r="1.25"/><circle cx="411.4" cy="324.2" r="1.25"/><circle cx="413.4" cy="324.3" r="1.25"/><circle cx="414.7" cy="323.4" r="1.25"/><circle cx="416.0" cy="322.1" r="1.25"/><circle cx="417.3" cy="320.6" r="1.25"/><circle cx="418.6" cy="321.0" r="1.25"/><circle cx="419.9" cy="322.6" r="1.25"/><circle cx="420.8" cy="323.3" r="1.25"/><circle cx="421.7" cy="326.3" r="1.25"/><circle cx="422.6" cy="326.7" r="1.25"/><circle cx="424.2" cy="328.1" r="1.25"/><circle cx="425.9" cy="329.8" r="1.25"/><circle cx="427.0" cy="328.2" r="1.25"/><circle cx="428.0" cy="327.5" r="1.25"/><circle cx="429.1" cy="327.5" r="1.25"/><circle cx="430.2" cy="326.1" r="1.25"/><circle cx="431.4" cy="324.6" r="1.25"/><circle cx="432.5" cy="322.9" r="1.25"/><circle cx="433.3" cy="321.9" r="1.25"/><circle cx="434.1" cy="320.5" r="1.25"/><circle cx="434.8" cy="318.3" r="1.25"/><circle cx="435.6" cy="317.1" r="1.25"/><circle cx="436.9" cy="316.3" r="1.25"/><circle cx="438.2" cy="317.9" r="1.25"/><circle cx="439.1" cy="318.5" r="1.25"/><circle cx="439.9" cy="320.2" r="1.25"/><circle cx="440.8" cy="321.2" r="1.25"/><circle cx="442.4" cy="321.8" r="1.25"/><circle cx="443.9" cy="322.7" r="1.25"/><circle cx="445.0" cy="323.4" r="1.25"/><circle cx="446.2" cy="321.1" r="1.25"/><circle cx="447.3" cy="320.8" r="1.25"/><circle cx="448.6" cy="321.5" r="1.25"/><circle cx="449.9" cy="322.3" r="1.25"/><circle cx="450.8" cy="324.5" r="1.25"/><circle cx="451.6" cy="326.2" r="1.25"/><circle cx="452.5" cy="326.3" r="1.25"/><circle cx="453.4" cy="325.6" r="1.25"/><circle cx="454.2" cy="323.7" r="1.25"/><circle cx="455.1" cy="322.8" r="1.25"/><circle cx="456.7" cy="321.6" r="1.25"/><circle cx="458.3" cy="320.3" r="1.25"/><circle cx="460.0" cy="319.5" r="1.25"/><circle cx="461.7" cy="318.9" r="1.25"/><circle cx="462.7" cy="318.7" r="1.25"/><circle cx="463.6" cy="316.5" r="1.25"/><circle cx="464.6" cy="314.5" r="1.25"/><circle cx="465.6" cy="314.3" r="1.25"/><circle cx="467.3" cy="315.4" r="1.25"/><circle cx="469.0" cy="315.3" r="1.25"/><circle cx="469.6" cy="316.1" r="1.25"/><circle cx="470.2" cy="317.5" r="1.25"/><circle cx="470.8" cy="318.7" r="1.25"/><circle cx="472.1" cy="319.9" r="1.25"/><circle cx="473.4" cy="320.2" r="1.25"/><circle cx="474.7" cy="319.4" r="1.25"/><circle cx="476.0" cy="318.4" r="1.25"/><circle cx="477.3" cy="318.3" r="1.25"/><circle cx="478.6" cy="317.5" r="1.25"/></g><path d="M140.2 311.8 C165 315,190 318.3,209.3 320.1 S245 323.8,261.5 324.8 S290 326.6,304.5 326.7 S345 326,362.6 324.8 S405 323,422.6 322 S460 319.5,478.6 317.5" fill="none" stroke="#d8492f" stroke-width="0.8"/><text transform="translate(147.4,282.5) rotate(-90)" font-size="10.4" fill="#505050" stroke="#505050" stroke-width="0.3" xml:space="preserve" textLength="25.8" lengthAdjust="spacingAndGlyphs">2 wks</text><text transform="translate(162.3,282.5) rotate(-90)" font-size="10.4" fill="#505050" stroke="#505050" stroke-width="0.3" xml:space="preserve" textLength="25.8" lengthAdjust="spacingAndGlyphs">8 wks</text><text transform="translate(195.0,286.8) rotate(-90)" font-size="10.4" fill="#505050" stroke="#505050" stroke-width="0.3" xml:space="preserve" textLength="34" lengthAdjust="spacingAndGlyphs">12  wks</text>
  </g>

  <!-- bullet text -->
  <g filter="url(#soft3)">
  <text x="511.8" y="128.3" font-size="9.4" fill="#fff" font-weight="normal" textLength="172.6" lengthAdjust="spacingAndGlyphs" stroke="#fff" stroke-width="0.18">Immediate post-operative period of  0-2</text>
<text x="511.8" y="141.0" font-size="9.4" fill="#fff" font-weight="normal" textLength="26.4" lengthAdjust="spacingAndGlyphs" stroke="#fff" stroke-width="0.18">weeks</text>
<text x="543.3" y="153.4" font-size="9.4" fill="#fff" font-weight="normal" textLength="161.7" lengthAdjust="spacingAndGlyphs" stroke="#fff" stroke-width="0.18">Higher cfDNA concentration observed</text>
<text x="543.3" y="166.0" font-size="9.4" fill="#fff" font-weight="normal" textLength="150.8" lengthAdjust="spacingAndGlyphs" stroke="#fff" stroke-width="0.18">Wk 1: variability in ctDNA positivity</text>
<text x="543.3" y="178.8" font-size="9.4" fill="#fff" font-weight="normal" textLength="58.2" lengthAdjust="spacingAndGlyphs" stroke="#fff" stroke-width="0.18">was observed</text>
<text x="543.3" y="191.5" font-size="9.4" fill="#fff" font-weight="normal" textLength="161.7" lengthAdjust="spacingAndGlyphs" stroke="#fff" stroke-width="0.18">Wk 2: ctDNA positivity becomes more</text>
<text x="543.3" y="204.2" font-size="9.4" fill="#fff" font-weight="normal" textLength="136.1" lengthAdjust="spacingAndGlyphs" stroke="#fff" stroke-width="0.18">consistent with later timepoints</text>
<text x="511.8" y="229.7" font-size="9.4" fill="#fff" font-weight="normal" textLength="41.4" lengthAdjust="spacingAndGlyphs" stroke="#fff" stroke-width="0.18">&gt;2 Weeks</text>
<text x="540.2" y="242.4" font-size="9.4" fill="#fff" font-weight="normal" textLength="152.0" lengthAdjust="spacingAndGlyphs" stroke="#fff" stroke-width="0.18">Though cfDNA levels remained high</text>
<text x="540.2" y="255.1" font-size="9.4" fill="#fff" font-weight="normal" textLength="125.0" lengthAdjust="spacingAndGlyphs" stroke="#fff" stroke-width="0.18">during weeks 2-4, ctDNA was</text>
<text x="540.2" y="267.8" font-size="9.4" fill="#fff" font-weight="normal" textLength="160.6" lengthAdjust="spacingAndGlyphs" stroke="#fff" stroke-width="0.18">consistently detected and was similar</text>
<text x="540.2" y="280.4" font-size="9.4" fill="#fff" font-weight="normal" textLength="59.6" lengthAdjust="spacingAndGlyphs" stroke="#fff" stroke-width="0.18">to weeks 4-12</text>
<text x="540.2" y="293.2" font-size="9.4" fill="#fff" font-weight="normal" textLength="132.3" lengthAdjust="spacingAndGlyphs" stroke="#fff" stroke-width="0.18">Suggests ctDNA testing may be</text>
<text x="540.2" y="305.9" font-size="9.4" fill="#fff" font-weight="normal" textLength="148.4" lengthAdjust="spacingAndGlyphs" stroke="#fff" stroke-width="0.18">performed ≥2 weeks after surgery.</text>
<text x="511.2" y="329.9" font-size="9.4" fill="#fff" font-weight="normal" textLength="196.8" lengthAdjust="spacingAndGlyphs" stroke="#fff" stroke-width="0.18">These results would need further investigation in</text>
<text x="511.2" y="341.5" font-size="9.4" fill="#fff" font-weight="normal" textLength="61.5" lengthAdjust="spacingAndGlyphs" stroke="#fff" stroke-width="0.18">a larger cohort.</text>
<circle cx="527.4" cy="150.8" r="1.05" fill="#fff"/>
<circle cx="527.4" cy="163.4" r="1.05" fill="#fff"/>
<circle cx="527.4" cy="188.9" r="1.05" fill="#fff"/>
<circle cx="526.8" cy="239.8" r="1.05" fill="#fff"/>
<circle cx="526.8" cy="290.6" r="1.05" fill="#fff"/>

  </g>

  <!-- webcam -->
  <g clip-path="url(#camclip)">
    <rect x="589" y="33" width="141" height="81" fill="url(#wall)"/>
    <g filter="url(#soft)">
      <!-- hair -->
      <path d="M650.5 34.3 C643 34.3,637 40,634 49 C631 57,630.5 62,628.5 68 C627 73,622 77,622.5 83 C620 87,619 92,621 97 C618.5 102,620 110,624 117 L695 117 C695 111,693 106,690 102 C690 97,686 93,683.5 88 C683 82,678 76,676 70 C674 62,672.5 55,670 49 C667 40,660 34.3,650.5 34.3 Z" fill="#43352d"/>
      <path d="M622 90 C626 100,630 108,638 117 L624 117 C620 108,620 98,622 90 Z M677 86 C681 96,683 108,679 117 L694 117 C692 104,685 95,677 86Z" fill="#5e4a3b"/>
      <path d="M630 80 C632 90,636 100,642 108 L640 117 L634 117 C630 106,628 92,630 80Z M670 80 C672 92,674 104,670 117 L664 117 C668 104,668 92,670 80Z" fill="#382c26"/>
      <!-- shoulder / jacket -->
      <path d="M688 97 C692 94,698 95,702 100 L700 108 L690 106 Z" fill="#c9bba9"/>
      <path d="M686 117 C688 108,694 102.5,701 102.5 C707 104,711 109,712.5 117 Z" fill="#1f1d1e"/>
      <!-- top / shirt -->
      <path d="M640 117 L643 101 C648 98,655 98,660 101 L665 117 Z" fill="#7b7d8b"/>
      <!-- neck -->
      <path d="M646.5 84 L659.5 84 L660 100 C656 103,650 103,646.5 100 Z" fill="#b3958a"/>
      <!-- face -->
      <path d="M651.5 40 C660 40,665.5 46,666.3 56 C667 66,664.5 74,661 81 C658.5 85.5,655.5 87.5,652 87.5 C648.5 87.5,645.5 85.5,643 81 C639.5 74,636.5 66,637 56 C637.6 46,643 40,651.5 40 Z" fill="#c2a298"/>
      <ellipse cx="651.5" cy="48" rx="9.5" ry="5.5" fill="#cdb0a5"/>
      <ellipse cx="643.5" cy="67" rx="4" ry="5" fill="#c9aaa0"/>
      <ellipse cx="660" cy="67" rx="4" ry="5" fill="#c9aaa0"/>
      <!-- hair part over forehead -->
      <path d="M636 58 C635 46,641 36.5,650.5 36.5 C660 36.5,667.5 46,667.5 58 C665.5 49,661 43.5,654 41 C651.5 40.3,650 40.3,648 41 C642 43.5,638 49,636 58Z" fill="#43352d"/>
    </g>
    <g filter="url(#soft2)">
      <ellipse cx="644.8" cy="58" rx="3.1" ry="1.2" fill="#6a5a5c"/>
      <ellipse cx="660.3" cy="58" rx="3.1" ry="1.2" fill="#6a5a5c"/>
      <ellipse cx="652" cy="75.8" rx="4.4" ry="1.4" fill="#a0706e"/>
      <ellipse cx="652.3" cy="67" rx="2.8" ry="2.2" fill="#b8928a"/>
    </g>
    <rect x="589" y="102" width="44" height="12" fill="#2b2a2a" fill-opacity="0.82"/>
    <text x="589.6" y="110.9" font-size="7.6" font-weight="bold" fill="#f4f4f4" textLength="42" lengthAdjust="spacingAndGlyphs">tacey Cohen</text>
  </g>

  <!-- footer -->
  <g filter="url(#soft3)">
  <text x="66.2" y="392.5" font-size="9.6" font-weight="bold" fill="#1c2a5e" textLength="30.6" lengthAdjust="spacingAndGlyphs">ASCO</text>
  <text x="100" y="392.5" font-size="9.5" fill="#5fa596" textLength="69" lengthAdjust="spacingAndGlyphs">Gastrointestinal</text>
  <text x="66.2" y="402.8" font-size="9.5" fill="#5fa596" textLength="90.3" lengthAdjust="spacingAndGlyphs">Cancers Symposium</text>
  <rect x="183.2" y="387" width="35.3" height="16" fill="#e09c3c"/>
  <text x="188.5" y="397.6" font-size="6.6" font-weight="bold" fill="#3a2c16" textLength="23.5" lengthAdjust="spacingAndGlyphs">#GI23</text>
  <text x="233.8" y="392" font-size="3.6" font-weight="bold" fill="#4a5575" textLength="34.5" lengthAdjust="spacingAndGlyphs">PRESENTED BY:</text>
  <text x="272.4" y="392.8" font-size="6.9" fill="#2a3560" textLength="67.3" lengthAdjust="spacingAndGlyphs">Stacey A. Cohen, MD</text>
  <text x="233.8" y="403" font-size="3.3" fill="#5a6075" textLength="198" lengthAdjust="spacingAndGlyphs">Content of this presentation is the property of the author, licensed by ASCO. Permission required for reuse.</text>

  <text x="625.5" y="396.8" font-size="14.2" font-weight="bold" fill="#1c2558" textLength="41.4" lengthAdjust="spacingAndGlyphs">ASCO</text>
  <text x="671.3" y="390.6" font-size="3.5" fill="#6b6f80" textLength="43.8" lengthAdjust="spacingAndGlyphs">AMERICAN SOCIETY OF</text>
  <text x="671.3" y="395.1" font-size="3.5" fill="#6b6f80" textLength="41" lengthAdjust="spacingAndGlyphs">CLINICAL ONCOLOGY</text>
  <text x="625.1" y="403.8" font-size="4.7" fill="#2f6fae" stroke="#2f6fae" stroke-width="0.12" textLength="90" lengthAdjust="spacingAndGlyphs">KNOWLEDGE CONQUERS CANCER</text>

  </g>
  <!-- Best Practice Nordic logo -->
  <rect x="752" y="346" width="56.4" height="53" fill="#fff"/>
  <path d="M764.5 354.5 C770.5 356,775 361,775 368 L775 390 C769 388,764.5 382,764.5 376 Z" fill="#5a7f6e"/>
  <circle cx="788" cy="362.2" r="7.6" fill="#5a7f6e"/>
  <circle cx="788" cy="381.8" r="7.6" fill="#5a7f6e"/>
  <g filter="url(#soft3)">
  <text x="765.3" y="421.5" font-size="16.1" font-weight="bold" fill="#fff" stroke="#fff" stroke-width="0.3" textLength="43" lengthAdjust="spacingAndGlyphs">BEST</text>
  <text x="717.7" y="440.3" font-size="16.3" font-weight="bold" fill="#fff" stroke="#fff" stroke-width="0.3" textLength="90.6" lengthAdjust="spacingAndGlyphs">PRACTICE</text>
  <text x="751.2" y="457.1" font-size="16.4" fill="#fff" fill-opacity="0.9" textLength="57" lengthAdjust="spacing">nordic</text>
  </g>
</svg>
</body>
</html>
